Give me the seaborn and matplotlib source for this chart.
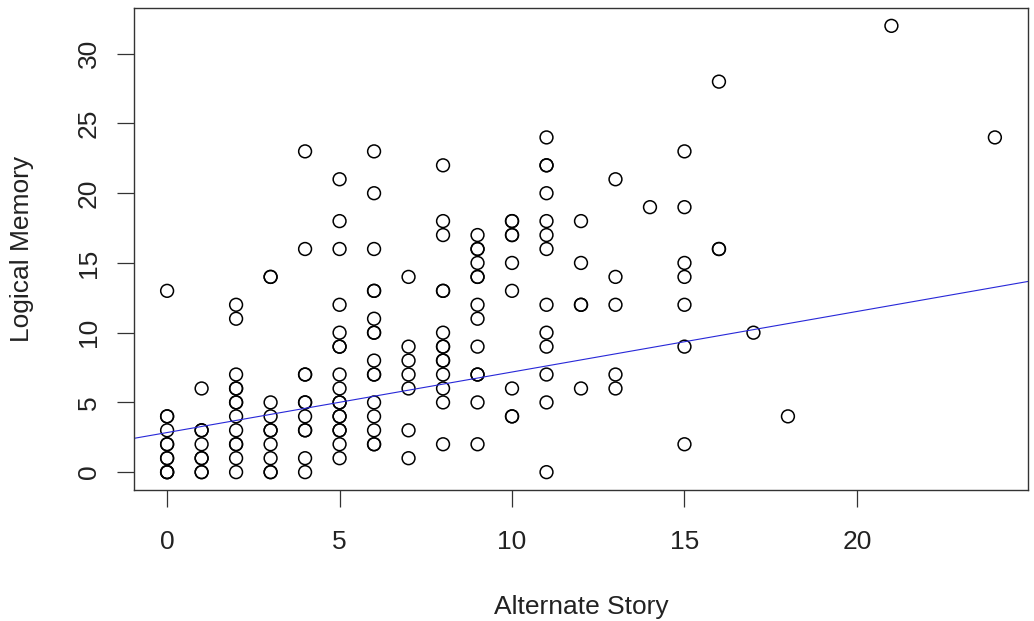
import numpy as np
import pandas as pd
import matplotlib
matplotlib.use("Agg")
import matplotlib.pyplot as plt
import seaborn as sns

# scores, grouped by Alternate Story value
alternate_story = (
    [0] * 11 + [1] * 8 + [2] * 13 + [3] * 10 + [4] * 11 + [5] * 17 + [6] * 16
    + [7] * 7 + [8] * 14 + [9] * 13 + [10] * 9 + [11] * 13 + [12] * 5 + [13] * 5
    + [14] + [15] * 7 + [16] * 3 + [17] + [18] + [21] + [24]
)
logical_memory = (
    [0, 0, 0, 1, 1, 2, 2, 3, 4, 4, 13]
    + [0, 0, 1, 1, 2, 3, 3, 6]
    + [0, 1, 2, 2, 3, 4, 5, 5, 6, 6, 7, 11, 12]
    + [0, 0, 1, 2, 3, 3, 4, 5, 14, 14]
    + [0, 1, 3, 3, 4, 5, 5, 7, 7, 16, 23]
    + [1, 2, 3, 3, 4, 4, 5, 5, 6, 7, 9, 9, 10, 12, 16, 18, 21]
    + [2, 2, 3, 4, 5, 7, 7, 8, 10, 10, 11, 13, 13, 16, 20, 23]
    + [1, 3, 6, 7, 8, 9, 14]
    + [2, 5, 6, 7, 8, 8, 9, 9, 10, 13, 13, 17, 18, 22]
    + [2, 5, 7, 7, 9, 11, 12, 14, 14, 15, 16, 16, 17]
    + [4, 4, 6, 13, 15, 17, 17, 18, 18]
    + [0, 5, 7, 9, 10, 12, 16, 17, 18, 20, 22, 22, 24]
    + [6, 12, 12, 15, 18]
    + [6, 7, 12, 14, 21]
    + [19]
    + [2, 9, 12, 14, 15, 19, 23]
    + [16, 16, 28]
    + [10]
    + [4]
    + [32]
    + [24]
)

# fitted line
fit_intercept = 2.84
fit_slope = 0.434

x_ticks = [0, 5, 10, 15, 20]
y_ticks = [0, 5, 10, 15, 20, 25, 30]

df = pd.DataFrame({"Alternate Story": alternate_story,
                   "Logical Memory": logical_memory})

sns.set_style("white")
plt.rcParams["font.family"] = ["Liberation Sans", "DejaVu Sans"]

fig = plt.figure(figsize=(10.34, 6.21), dpi=100)
ax = fig.add_axes([134 / 1034, 1 - 490 / 621, 894 / 1034, 482 / 621])

sns.scatterplot(data=df, x="Alternate Story", y="Logical Memory", ax=ax,
                marker="o", s=85, facecolor="none", edgecolor="black",
                linewidth=1.1, legend=False)

ax.axline((0, fit_intercept), slope=fit_slope, color="#2828d8", linewidth=0.8)

# R style axes range (4% padding)
xr = max(alternate_story) - min(alternate_story)
yr = max(logical_memory) - min(logical_memory)
ax.set_xlim(min(alternate_story) - 0.04 * xr, max(alternate_story) + 0.04 * xr)
ax.set_ylim(min(logical_memory) - 0.04 * yr, max(logical_memory) + 0.04 * yr)

ax.set_xticks(x_ticks)
ax.set_yticks(y_ticks)
ax.tick_params(axis="both", direction="out", length=12, width=0.9,
               color="#333333", labelsize=19, labelcolor="#222222",
               bottom=True, left=True)
ax.tick_params(axis="x", pad=17)
ax.tick_params(axis="y", pad=12)
for lab in ax.get_yticklabels():
    lab.set_rotation(90)
    lab.set_va("center")

for sp in ax.spines.values():
    sp.set_visible(True)
    sp.set_color("#333333")
    sp.set_linewidth(1.0)

ax.set_xlabel("Alternate Story", fontsize=19, color="#222222")
ax.set_ylabel("Logical Memory", fontsize=19, color="#222222")
ax.xaxis.set_label_coords((581 - 134) / 894, (490 - 607) / 482)
ax.xaxis.label.set_va("center")
ax.yaxis.set_label_coords((22 - 134) / 894, 0.5)
ax.yaxis.label.set_va("center")

fig.savefig("out.png", dpi=100)
